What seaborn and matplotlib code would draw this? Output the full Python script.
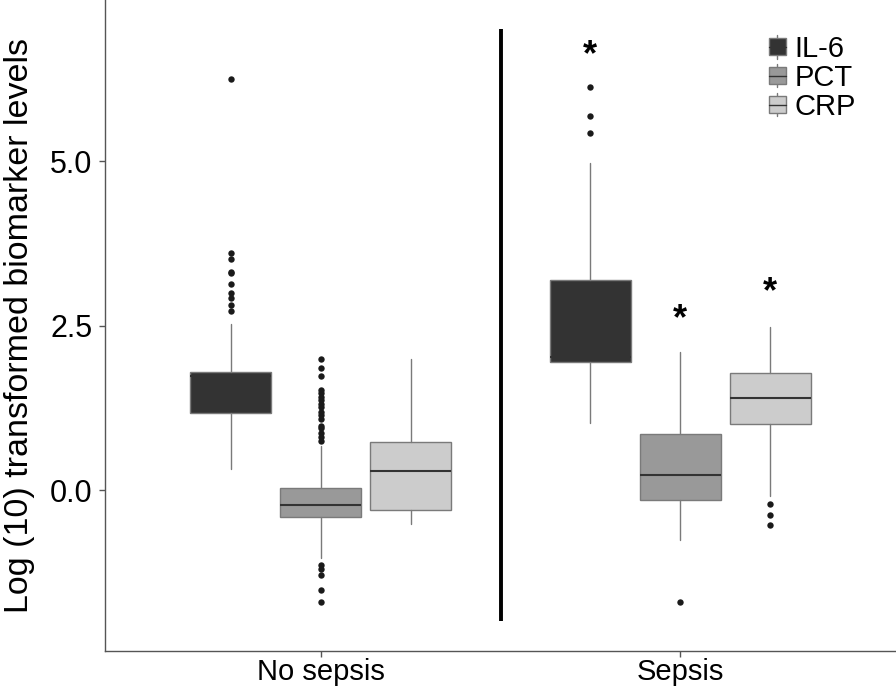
import matplotlib
matplotlib.use("Agg")
import matplotlib.pyplot as plt
import seaborn as sns
import numpy as np
from matplotlib.legend_handler import HandlerBase
from matplotlib.patches import Rectangle, Patch
from matplotlib.lines import Line2D

# ---------------- data ----------------
groups = ["No sepsis", "Sepsis"]
markers = ["IL-6", "PCT", "CRP"]
fill_colors = ["#333333", "#999999", "#cccccc"]

il6_lo = [0.32, 1.02]
il6_q1 = [1.17, 1.95]
il6_med = [1.74, 2.03]
il6_q3 = [1.79, 3.19]
il6_hi = [2.53, 4.97]
il6_out = [[6.24, 3.61, 3.51, 3.32, 3.30, 3.13, 3.00, 2.92, 2.82, 2.73],
           [6.13, 5.68, 5.43]]

pct_lo = [-1.03, -0.75]
pct_q1 = [-0.40, -0.15]
pct_med = [-0.23, 0.23]
pct_q3 = [0.035, 0.85]
pct_hi = [0.68, 2.10]
pct_out = [[2.00, 1.86, 1.73, 1.53, 1.48, 1.42, 1.37, 1.31, 1.26, 1.19, 1.14,
            1.09, 0.98, 0.94, 0.87, 0.81, 0.75,
            -1.14, -1.19, -1.29, -1.52, -1.70],
           [-1.70]]

crp_lo = [-0.51, -0.09]
crp_q1 = [-0.30, 1.00]
crp_med = [0.29, 1.40]
crp_q3 = [0.73, 1.78]
crp_hi = [1.99, 2.48]
crp_out = [[], [-0.21, -0.38, -0.52]]

# significance stars (Sepsis group), y positions
star_markers = ["IL-6", "PCT", "CRP"]
star_y = [6.60, 2.59, 3.00]

yticks = [0.0, 2.5, 5.0]
ytick_labels = ["0.0", "2.5", "5.0"]
ylabel = "Log (10) transformed biomarker levels"

# ---------------- style ----------------
sns.set_theme(style="white")
plt.rcParams["font.family"] = ["Liberation Sans", "DejaVu Sans"]
plt.rcParams["text.color"] = "black"

edge = "#7a7a7a"
med_col = "#333333"

fig = plt.figure(figsize=(8.96, 6.87), dpi=100)
ax = fig.add_axes([105 / 896, 36.3 / 687, 791 / 896, 650.7 / 687])

stats_by_marker = {
    "IL-6": (il6_lo, il6_q1, il6_med, il6_q3, il6_hi, il6_out),
    "PCT": (pct_lo, pct_q1, pct_med, pct_q3, pct_hi, pct_out),
    "CRP": (crp_lo, crp_q1, crp_med, crp_q3, crp_hi, crp_out),
}
offsets = [-0.25, 0.0, 0.25]

for k, m in enumerate(markers):
    lo, q1, med, q3, hi, out = stats_by_marker[m]
    stats = []
    for g in range(len(groups)):
        stats.append(dict(whislo=lo[g], q1=q1[g], med=med[g], q3=q3[g],
                          whishi=hi[g], fliers=np.array(out[g])))
    pos = [g + 1 + offsets[k] for g in range(len(groups))]
    mcol = med_col if k > 0 else fill_colors[0]
    ax.bxp(stats, positions=pos, widths=0.225, patch_artist=True,
           showcaps=False, manage_ticks=False,
           boxprops=dict(facecolor=fill_colors[k], edgecolor=edge, linewidth=1.0),
           whiskerprops=dict(color=edge, linewidth=1.0),
           medianprops=dict(color=mcol, linewidth=1.5),
           flierprops=dict(marker="o", markerfacecolor="#1a1a1a",
                           markeredgecolor="none", markersize=4.6))

# separator line
ax.vlines(1.5, -1.98, 7.0, color="black", linewidth=2.8)

# stars
for m, y in zip(star_markers, star_y):
    k = markers.index(m)
    ax.text(2 + offsets[k], y, "*", ha="center", va="center",
            fontsize=26, fontweight="bold", color="black")

ax.set_xlim(0.4, 2.6)
ax.set_ylim(-2.436, 7.446)
ax.set_xticks([1, 2])
ax.set_xticklabels(groups)
ax.set_yticks(yticks)
ax.set_yticklabels(ytick_labels)
sns.despine(ax=ax)
for s in ["left", "bottom"]:
    ax.spines[s].set_color("#555555")
    ax.spines[s].set_linewidth(1.0)
ax.tick_params(axis="both", which="both", bottom=True, left=True,
               direction="out", length=4, width=1, color="#555555",
               labelcolor="black")
ax.tick_params(axis="x", labelsize=21, pad=1)
ax.tick_params(axis="y", labelsize=22, pad=5)
ax.set_ylabel(ylabel, fontsize=24.5, color="black")
ax.yaxis.set_label_coords(-0.088, 0.5)
ax.grid(False)


class BoxHandler(HandlerBase):
    def create_artists(self, legend, orig_handle, xdescent, ydescent,
                       width, height, fontsize, trans):
        fc = orig_handle.get_facecolor()
        x0, y0 = -xdescent, -ydescent
        bh = height * 0.85
        by = y0 + (height - bh) / 2
        rect = Rectangle((x0, by), width, bh, facecolor=fc, edgecolor=edge,
                         linewidth=1.0, transform=trans)
        xc = x0 + width / 2
        w1 = Line2D([xc, xc], [by + bh, by + bh + height * 0.18], color=edge,
                    linewidth=1.0, transform=trans)
        w2 = Line2D([xc, xc], [by - height * 0.18, by], color=edge,
                    linewidth=1.0, transform=trans)
        md = Line2D([x0, x0 + width], [by + bh / 2, by + bh / 2], color=med_col,
                    linewidth=1.0, transform=trans)
        return [w1, w2, rect, md]


handles = [Patch(facecolor=c, edgecolor=edge) for c in fill_colors]
leg = ax.legend(handles, markers, handler_map={Patch: BoxHandler()},
                loc="upper left", bbox_to_anchor=(769 / 896, 1 - 35 / 687),
                bbox_transform=fig.transFigure, frameon=False, fontsize=21,
                handlelength=0.58, handleheight=0.65, handletextpad=0.3,
                labelspacing=0.03, borderpad=0, borderaxespad=0)
for t in leg.get_texts():
    t.set_color("black")

fig.savefig("out.png", dpi=100)
